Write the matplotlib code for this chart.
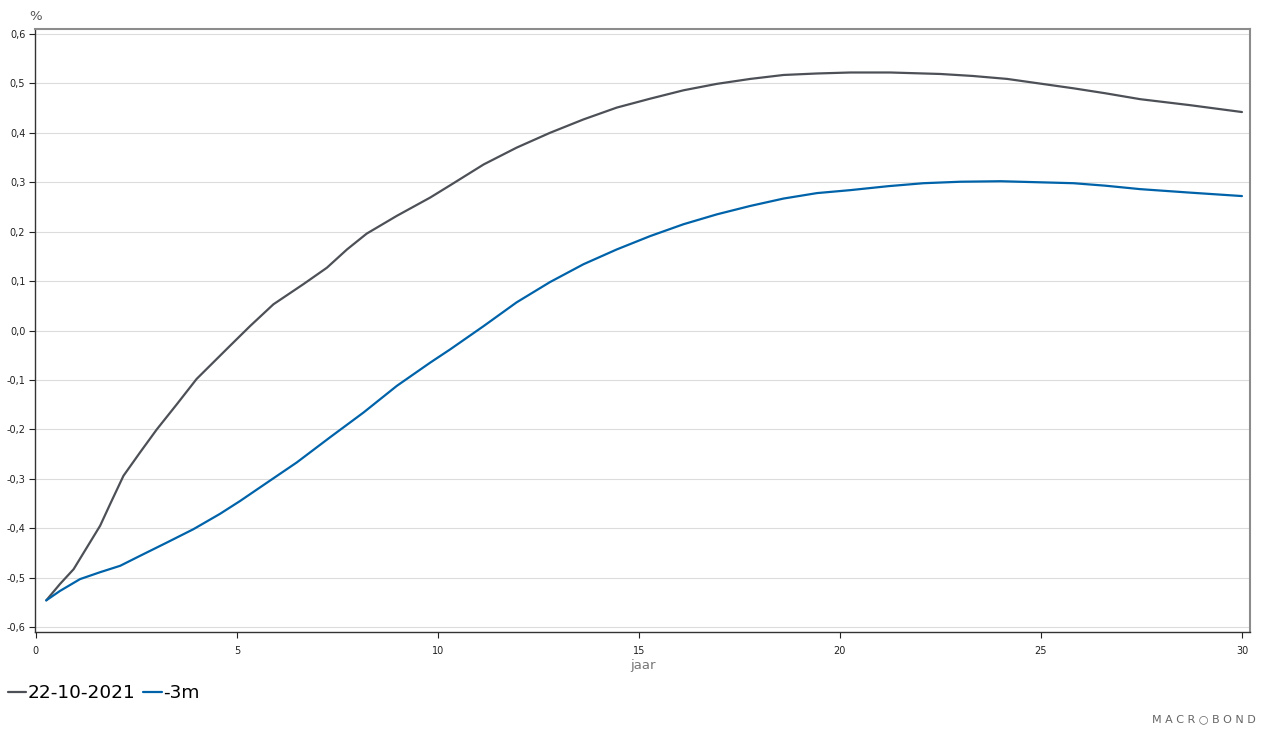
import matplotlib
matplotlib.use("Agg")
import matplotlib.pyplot as plt
from matplotlib.ticker import FuncFormatter, MultipleLocator

# Maturity (years) and yields (%)
x_now = [0.26, 0.60, 0.94, 1.27, 1.60, 1.85, 2.18, 2.59, 3.01, 3.51, 4.00, 4.83, 5.33, 5.91,
         6.66, 7.24, 7.74, 8.23, 8.98, 9.81, 10.31, 11.14, 11.96, 12.79, 13.62, 14.45, 15.28,
         16.11, 16.94, 17.77, 18.60, 19.43, 20.26, 21.25, 22.50, 23.30, 24.16, 25.81, 26.60,
         27.47, 28.70, 30.0]
y_now = [-0.546, -0.513, -0.483, -0.439, -0.395, -0.351, -0.294, -0.247, -0.200, -0.149,
         -0.098, -0.031, 0.009, 0.053, 0.094, 0.127, 0.164, 0.196, 0.232, 0.269, 0.294, 0.336,
         0.370, 0.400, 0.427, 0.451, 0.469, 0.486, 0.499, 0.509, 0.517, 0.520, 0.522, 0.522,
         0.519, 0.515, 0.509, 0.490, 0.480, 0.468, 0.456, 0.442]

x_3m = [0.26, 0.60, 1.10, 1.60, 2.10, 2.59, 3.26, 3.92, 4.58, 5.08, 5.82, 6.49, 7.32, 8.15,
        8.98, 9.81, 10.31, 11.14, 11.96, 12.79, 13.62, 14.45, 15.28, 16.11, 16.94, 17.77,
        18.60, 19.43, 20.26, 21.20, 22.08, 23.00, 24.00, 25.81, 26.60, 27.47, 28.70, 30.0]
y_3m = [-0.546, -0.527, -0.503, -0.489, -0.476, -0.456, -0.429, -0.402, -0.371, -0.345,
        -0.304, -0.267, -0.216, -0.166, -0.112, -0.065, -0.038, 0.009, 0.057, 0.098, 0.134,
        0.164, 0.191, 0.215, 0.235, 0.252, 0.267, 0.278, 0.284, 0.292, 0.298, 0.301, 0.302,
        0.298, 0.293, 0.286, 0.279, 0.272]

series_labels = ["22-10-2021", "-3m"]
x_ticks = [0, 5, 10, 15, 20, 25, 30]

fig = plt.figure(figsize=(12.63, 7.38), dpi=100)
ax = fig.add_axes([35 / 1263, 1 - 632 / 738, (1250 - 35) / 1263, (632 - 29) / 738])

ax.plot(x_now, y_now, color="#4d5157", lw=1.6, label=series_labels[0], solid_capstyle="round",
        solid_joinstyle="round")
ax.plot(x_3m, y_3m, color="#0063a9", lw=1.6, label=series_labels[1], solid_capstyle="round",
        solid_joinstyle="round")

ax.set_xlim(-0.02, 30.2)
ax.set_ylim(-0.610, 0.610)
ax.set_xticks(x_ticks)
ax.yaxis.set_major_locator(MultipleLocator(0.1))
ax.yaxis.set_major_formatter(FuncFormatter(lambda v, p: f"{v:.1f}".replace(".", ",").replace("-0,0", "0,0")))
ax.grid(axis="y", color="#dcdcdc", lw=0.8)
ax.set_axisbelow(True)

for s in ["left", "bottom"]:
    ax.spines[s].set_color("#333333")
    ax.spines[s].set_linewidth(1.0)
for s in ["top", "right"]:
    ax.spines[s].set_color("#8c8c8c")
    ax.spines[s].set_linewidth(1.5)

ax.tick_params(axis="both", labelsize=7, colors="#222222", length=4, width=0.8, direction="out")
ax.tick_params(axis="x", pad=6)
ax.tick_params(axis="y", pad=3)

ax.set_xlabel("jaar", fontsize=9.5, color="#777777", labelpad=2)
fig.text(29 / 1263, 1 - 17 / 738, "%", fontsize=9.5, color="#555555", ha="left", va="center")

leg = fig.legend(loc="center left", bbox_to_anchor=(4 / 1263, 1 - 693 / 738), ncol=2, frameon=False,
                 fontsize=13.3, handlelength=1.0, handletextpad=0.1, columnspacing=0.4,
                 borderaxespad=0, borderpad=0.2)

fig.text(1256 / 1263, 1 - 719 / 738, "M A C R \u25CB B O N D", fontsize=8, color="#666666",
         ha="right", va="center", family=["DejaVu Sans", "Noto Sans CJK SC"])

fig.savefig("out.png", dpi=100)
